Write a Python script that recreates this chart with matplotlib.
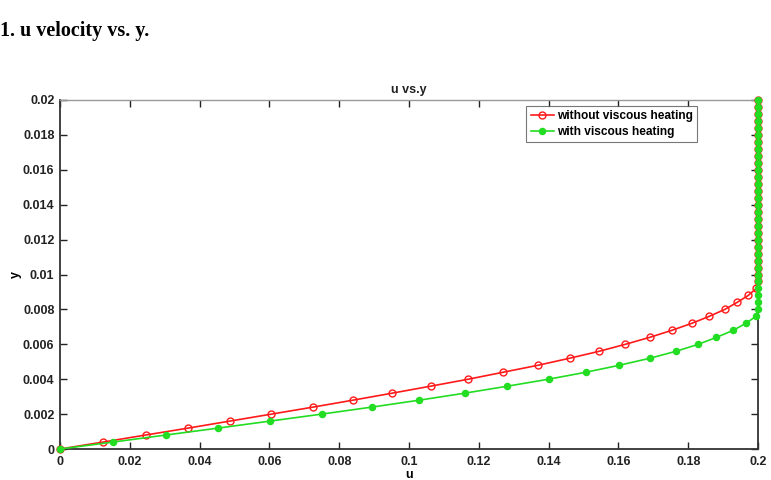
import numpy as np
import matplotlib
matplotlib.use("Agg")
import matplotlib.pyplot as plt

# y grid (every 0.0004 from 0 to 0.02)
y_vals = [round(0.0004 * i, 4) for i in range(51)]

u_without = [0, 0.0124, 0.0245, 0.0368, 0.0487, 0.0606, 0.0725, 0.084, 0.0952,
             0.1062, 0.117, 0.127, 0.137, 0.146, 0.1545, 0.162, 0.169, 0.1753,
             0.181, 0.186, 0.1905, 0.194, 0.1972, 0.1995] + [0.2] * 27

u_with = [0, 0.0153, 0.0303, 0.0454, 0.0602, 0.075, 0.0893, 0.103, 0.116,
          0.1282, 0.14, 0.1507, 0.1603, 0.169, 0.1765, 0.1829, 0.1881, 0.1929,
          0.1965, 0.1994] + [0.2] * 31

x_ticks = [0, 0.02, 0.04, 0.06, 0.08, 0.1, 0.12, 0.14, 0.16, 0.18, 0.2]
x_ticklabels = ["0", "0.02", "0.04", "0.06", "0.08", "0.1", "0.12", "0.14", "0.16", "0.18", "0.2"]
y_ticks = [0, 0.002, 0.004, 0.006, 0.008, 0.01, 0.012, 0.014, 0.016, 0.018, 0.02]
y_ticklabels = ["0", "0.002", "0.004", "0.006", "0.008", "0.01", "0.012", "0.014", "0.016", "0.018", "0.02"]

plt.rcParams['font.family'] = ['Liberation Sans', 'DejaVu Sans']

fig = plt.figure(figsize=(7.71, 4.8), dpi=100)
W, H = 771, 480
ax = fig.add_axes([60 / W, 1 - 449 / H, (758 - 60) / W, (449 - 100) / H])

red = '#ff1a1a'
green = '#22dd22'
ax.plot(u_without, y_vals, color=red, lw=1.2, marker='o', ms=5,
        mfc='none', mec=red, mew=1.0, label='without viscous heating',
        clip_on=False, zorder=3)
ax.plot(u_with, y_vals, color=green, lw=1.2, marker='o', ms=4.4,
        mfc=green, mec=green, label='with viscous heating',
        clip_on=False, zorder=4)

ax.set_xlim(0, 0.2)
ax.set_ylim(0, 0.02)
ax.set_xticks(x_ticks)
ax.set_xticklabels(x_ticklabels)
ax.set_yticks(y_ticks)
ax.set_yticklabels(y_ticklabels)
for lab in ax.get_xticklabels() + ax.get_yticklabels():
    lab.set_fontweight('bold')
    lab.set_fontsize(9)
    lab.set_color('#222222')

ax.tick_params(direction='in', top=True, right=True, length=5, width=1,
               colors='#222222', pad=4)
ax.tick_params(axis='x', pad=5)
for s in ['left', 'bottom', 'right']:
    ax.spines[s].set_color('#333333')
    ax.spines[s].set_linewidth(1.3)
ax.spines['top'].set_color('#999999')
ax.spines['top'].set_linewidth(1.0)

ax.set_title('u vs.y', fontsize=9, fontweight='bold', color='#222222', pad=5)
ax.set_xlabel('u', fontsize=9, fontweight='bold', labelpad=1)
ax.set_ylabel('y', fontsize=9, fontweight='bold', labelpad=1)

leg = ax.legend(loc='upper right', bbox_to_anchor=(697 / W, 1 - 106 / H),
                bbox_transform=fig.transFigure, fontsize=8.6, frameon=True,
                fancybox=False, handlelength=2.0, handletextpad=0.2,
                borderpad=0.35, labelspacing=0.3, borderaxespad=0)
leg.get_frame().set_edgecolor('#555555')
leg.get_frame().set_linewidth(0.8)
for t in leg.get_texts():
    t.set_fontweight('bold')

fig.text(0 / W, 1 - 31 / H, '1. u velocity vs. y.', fontsize=14.5,
         fontweight='bold', family=['Liberation Serif', 'DejaVu Serif'],
         va='center', ha='left')

fig.savefig('out.png', dpi=100)
